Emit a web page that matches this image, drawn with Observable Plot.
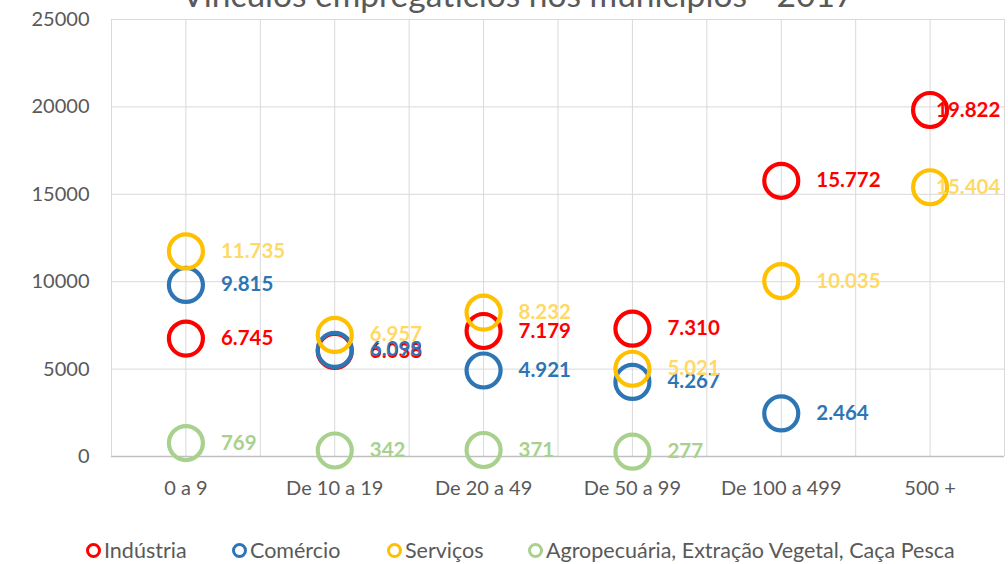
<!DOCTYPE html>
<html><head><meta charset="utf-8">
<script src="https://cdn.jsdelivr.net/npm/d3@7"></script>
<script src="https://cdn.jsdelivr.net/npm/@observablehq/plot@0.6"></script>
<style>
body{margin:0;background:#fff;font-family:Lato,sans-serif;}
#wrap{position:relative;width:1008px;height:564px;overflow:hidden;background:#fff;}
#title{position:absolute;top:-26px;left:0;width:1036px;text-align:center;font-size:33.5px;color:#595959;white-space:nowrap;}
#chart{position:absolute;top:0;left:0;}
.lg{position:absolute;top:537px;font-size:21.5px;color:#595959;white-space:nowrap;display:flex;align-items:center;}
.lg i{display:inline-block;width:9px;height:9px;border-radius:50%;border:3.5px solid;margin-right:3px;}
</style></head>
<body><div id="wrap"><div id="title">Vínculos empregatícios nos municípios - 2017</div><div id="chart"></div></div>
<script>
const categories = ["0 a 9", "De 10 a 19", "De 20 a 49", "De 50 a 99", "De 100 a 499", "500 +"];
const seriesNames = ["Indústria", "Comércio", "Serviços", "Agropecuária, Extração Vegetal, Caça Pesca"];
const industria = [6745, 6038, 7179, 7310, 15772, 19822];
const comercio = [9815, 6098, 4921, 4267, 2464, null];
const servicos = [11735, 6957, 8232, 5021, 10035, 15404];
const agro = [769, 342, 371, 277, null, null];
const yTicks = [0, 5000, 10000, 15000, 20000, 25000];

const circleColors = ["#FF0000", "#2E75B6", "#FFC000", "#A9D18E"];
const labelColors = ["#FF0000", "#2E75B6", "#FFD966", "#A9D18E"];

const allSeries = [industria, comercio, servicos, agro];
const data = [];
allSeries.forEach((vals, s) => vals.forEach((v, i) => {
  if (v != null) data.push({s, name: seriesNames[s], cat: categories[i], x: i + 1, y: v});
}));
const inner = data.filter(d => d.x < 6);
const edge = data.filter(d => d.x === 6);

const loc = d3.formatLocale({decimal: ",", thousands: ".", grouping: [3], currency: ["R$", ""]});
const fmt = loc.format(",d");

const plot = Plot.plot({
  width: 1008, height: 515,
  marginTop: 19, marginBottom: 59, marginLeft: 111, marginRight: 4,
  style: {fontFamily: "Lato, sans-serif", background: "transparent"},
  x: {type: "linear", domain: [0.5, 6.5]},
  y: {domain: [0, 25000]},
  marks: [
    Plot.gridX(d3.range(0.5, 6.51, 0.5), {stroke: "#d9d9d9", strokeOpacity: 1, strokeWidth: 1}),
    Plot.gridY(yTicks, {stroke: "#d9d9d9", strokeOpacity: 1, strokeWidth: 1}),
    Plot.ruleY([0], {stroke: "#bfbfbf", strokeWidth: 1.5}),
    Plot.axisY(yTicks, {tickSize: 0, tickPadding: 22, fontSize: 20, fill: "#595959", label: null, tickFormat: d => String(d)}),
    Plot.axisX([1,2,3,4,5,6], {tickSize: 0, tickPadding: 24, fontSize: 20, fill: "#595959", label: null, tickFormat: d => categories[d - 1]}),
    Plot.dot(data, {x: "x", y: "y", r: 17, stroke: d => circleColors[d.s], strokeWidth: 4.2, fill: "none"}),
    Plot.text(inner, {x: "x", y: "y", text: d => fmt(d.y), dx: 35, textAnchor: "start", fill: d => labelColors[d.s], fontSize: 20.5, fontWeight: "bold"}),
    Plot.text(edge, {x: "x", y: "y", text: d => fmt(d.y), dx: 6, textAnchor: "start", fill: d => labelColors[d.s], fontSize: 20.5, fontWeight: "bold"})
  ]
});
document.getElementById("chart").appendChild(plot);

const legendX = [86, 232, 387, 528];
const wrap = document.getElementById("wrap");
seriesNames.forEach((n, i) => {
  const el = document.createElement("div");
  el.className = "lg";
  el.style.left = legendX[i] + "px";
  el.innerHTML = `<i style="border-color:${circleColors[i]}"></i>${n}`;
  wrap.appendChild(el);
});
</script></body></html>
